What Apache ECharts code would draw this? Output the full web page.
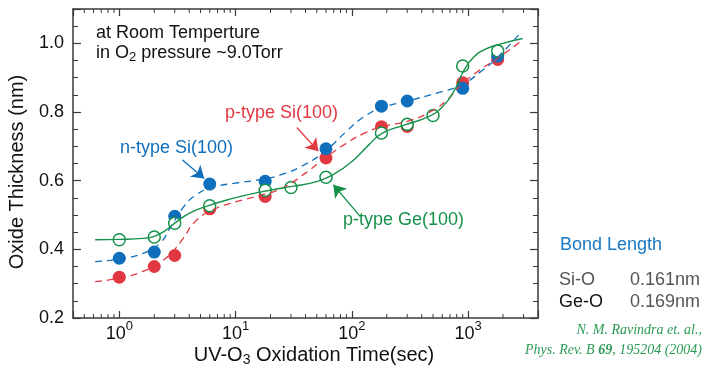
<!DOCTYPE html>
<html>
<head>
<meta charset="utf-8">
<script src="https://cdn.jsdelivr.net/npm/echarts@6/dist/echarts.min.js"></script>
<style>
  html, body { margin: 0; padding: 0; background: #fff; }
  #chart { width: 704px; height: 372px; }
</style>
</head>
<body>
<div id="chart"></div>
<script>
// measured points (time in sec, thickness in nm)
const siTimes = [1, 2, 3, 6, 18, 60, 180, 300, 900, 1800]
const nSiValues = [0.374, 0.392, 0.496, 0.590, 0.598, 0.693, 0.817, 0.832, 0.869, 0.963]
const pSiValues = [0.319, 0.350, 0.382, 0.518, 0.554, 0.666, 0.757, 0.758, 0.885, 0.953]
const geTimes = [1, 2, 3, 6, 18, 30, 60, 180, 300, 500, 900, 1800]
const geValues = [0.428, 0.436, 0.476, 0.527, 0.572, 0.580, 0.610, 0.739, 0.764, 0.790, 0.934, 0.978]

// fitted curves
const nFitTimes = [0.62, 1, 1.6, 2.24, 2.82, 3.55, 4.47, 6.3, 10, 15.8, 25, 40, 60, 89, 126, 182, 316, 562, 891, 1260, 1780, 2820]
const nFitValues = [0.364, 0.372, 0.388, 0.418, 0.470, 0.522, 0.556, 0.580, 0.593, 0.602, 0.618, 0.648, 0.688, 0.742, 0.785, 0.812, 0.834, 0.857, 0.880, 0.915, 0.958, 1.030]
const pFitTimes = [0.62, 1, 1.6, 2.24, 2.82, 3.55, 4.47, 6.3, 10, 15.8, 25, 40, 60, 89, 126, 182, 316, 500, 660, 891, 1260, 1780, 2950]
const pFitValues = [0.306, 0.316, 0.336, 0.362, 0.390, 0.432, 0.480, 0.514, 0.538, 0.556, 0.578, 0.622, 0.668, 0.708, 0.737, 0.757, 0.775, 0.805, 0.835, 0.882, 0.922, 0.955, 1.010]
const gFitTimes = [0.62, 1, 1.6, 2, 2.5, 3.16, 4, 5.6, 8.9, 15.8, 31.6, 50, 71, 100, 141, 182, 282, 447, 603, 760, 912, 1100, 1410, 2000, 2950]
const gFitValues = [0.428, 0.429, 0.432, 0.438, 0.455, 0.482, 0.505, 0.525, 0.546, 0.566, 0.584, 0.597, 0.620, 0.655, 0.705, 0.738, 0.762, 0.785, 0.815, 0.862, 0.918, 0.957, 0.983, 1.000, 1.014]

// minor ticks of the log axis
const minorTimes = [0.5, 0.6, 0.7, 0.8, 0.9, 2, 3, 4, 5, 6, 7, 8, 9, 20, 30, 40, 50, 60, 70, 80, 90,
  200, 300, 400, 500, 600, 700, 800, 900, 2000, 3000]

const BLUE = '#0f6fbd'
const RED = '#e23842'
const GREEN = '#16914a'
const AXIS = '#3a3a3a'
const FONT = '"Liberation Sans", Arial, sans-serif'
const SERIF = '"Liberation Serif", serif'

const zip = (xs, ys) => xs.map((x, i) => [x, ys[i]])

const arrow = (color, from, to) => ({
  silent: true,
  symbol: ['none', 'arrow'],
  symbolSize: 12,
  label: { show: false },
  lineStyle: { color: color, width: 1.3, type: 'solid' },
  emphasis: { disabled: true },
  data: [[{ coord: from }, { coord: to }]]
})

const myChart = echarts.init(document.getElementById('chart'))

const axisLine = { show: true, lineStyle: { color: AXIS, width: 1.5 } }

const option = {
  animation: false,
  grid: { left: 73, right: 166, top: 9, bottom: 54 },
  xAxis: [{
    type: 'log',
    logBase: 10,
    min: 0.4,
    max: 4000,
    axisLine: axisLine,
    axisTick: { inside: true, length: 7, lineStyle: { color: AXIS, width: 1.2 } },
    splitLine: { show: false },
    axisLabel: {
      margin: 2,
      formatter: function (v) {
        const e = Math.log10(v)
        if (Math.abs(e - Math.round(e)) > 1e-6) return ''
        return '{b|10}{s|' + Math.round(e) + '}'
      },
      rich: {
        b: { fontFamily: FONT, fontSize: 18, color: '#111', lineHeight: 28 },
        s: { fontFamily: FONT, fontSize: 13, color: '#111', lineHeight: 13, verticalAlign: 'top' }
      }
    }
  }, {
    type: 'log',
    logBase: 10,
    min: 0.4,
    max: 4000,
    position: 'top',
    axisLine: axisLine,
    axisTick: { inside: true, length: 7, lineStyle: { color: AXIS, width: 1.2 } },
    axisLabel: { show: false },
    splitLine: { show: false }
  }],
  yAxis: [{
    type: 'value',
    min: 0.2,
    max: 1.1,
    interval: 0.2,
    axisLine: axisLine,
    axisTick: { inside: true, length: 8, lineStyle: { color: AXIS, width: 1.2 } },
    minorTick: { show: true, splitNumber: 4, length: 5, lineStyle: { color: AXIS, width: 1 } },
    splitLine: { show: false },
    axisLabel: {
      margin: 9,
      fontFamily: FONT,
      fontSize: 18,
      color: '#111',
      showMaxLabel: false,
      formatter: v => v.toFixed(1)
    }
  }, {
    type: 'value',
    min: 0.2,
    max: 1.1,
    interval: 0.2,
    position: 'right',
    axisLine: axisLine,
    axisTick: { inside: true, length: 8, lineStyle: { color: AXIS, width: 1.2 } },
    minorTick: { show: true, splitNumber: 4, length: 5, lineStyle: { color: AXIS, width: 1 } },
    splitLine: { show: false },
    axisLabel: { show: false }
  }],
  series: [
    {
      type: 'custom',
      silent: true,
      data: minorTimes.map(t => [t, 0.5]),
      encode: { x: 0, y: 1 },
      renderItem: function (params, api) {
        const x = api.coord([api.value(0), 0.5])[0]
        const cs = params.coordSys
        const s = { stroke: AXIS, lineWidth: 1 }
        return {
          type: 'group',
          children: [
            { type: 'line', shape: { x1: x, y1: cs.y + cs.height, x2: x, y2: cs.y + cs.height - 4 }, style: s },
            { type: 'line', shape: { x1: x, y1: cs.y, x2: x, y2: cs.y + 4 }, style: s }
          ]
        }
      }
    },
    {
      name: 'p-type Si fit', type: 'line', data: zip(pFitTimes, pFitValues),
      showSymbol: false, smooth: 0.5, silent: true,
      lineStyle: { color: RED, width: 1.3, type: [7, 5] }
    },
    {
      name: 'n-type Si fit', type: 'line', data: zip(nFitTimes, nFitValues),
      showSymbol: false, smooth: 0.5, silent: true,
      lineStyle: { color: BLUE, width: 1.3, type: [7, 5] }
    },
    {
      name: 'p-type Ge fit', type: 'line', data: zip(gFitTimes, gFitValues),
      showSymbol: false, smooth: 0.5, silent: true,
      lineStyle: { color: GREEN, width: 1.4 }
    },
    {
      name: 'p-type Si(100)', type: 'scatter', data: zip(siTimes, pSiValues),
      symbolSize: 13, itemStyle: { color: RED, opacity: 1 },
      markLine: arrow(RED, [33.7, 0.755], [51.6, 0.686])
    },
    {
      name: 'n-type Si(100)', type: 'scatter', data: zip(siTimes, nSiValues),
      symbolSize: 13, itemStyle: { color: BLUE, opacity: 1 },
      markLine: arrow(BLUE, [3.48, 0.661], [5.38, 0.606])
    },
    {
      name: 'p-type Ge(100)', type: 'scatter', data: zip(geTimes, geValues),
      symbolSize: 12, itemStyle: { color: '#fff', borderColor: GREEN, borderWidth: 1.5, opacity: 1 },
      markLine: arrow(GREEN, [118, 0.496], [69.5, 0.588])
    }
  ],
  graphic: [
    { type: 'text', x: 96, y: 33, style: { text: 'at Room Temperture', font: '18px ' + FONT, fill: '#111', verticalAlign: 'middle' } },
    { type: 'text', x: 96, y: 53, style: {
      text: '{n|in O}{sub|2}{n| pressure ~9.0Torr}', verticalAlign: 'middle',
      rich: {
        n: { fontFamily: FONT, fontSize: 18, fill: '#111', lineHeight: 22 },
        sub: { fontFamily: FONT, fontSize: 13, fill: '#111', lineHeight: 13, verticalAlign: 'bottom' }
      }
    } },
    { type: 'text', x: 225, y: 113, style: { text: 'p-type Si(100)', font: '18px ' + FONT, fill: RED, verticalAlign: 'middle' } },
    { type: 'text', x: 120, y: 148, style: { text: 'n-type Si(100)', font: '18px ' + FONT, fill: BLUE, verticalAlign: 'middle' } },
    { type: 'text', x: 343, y: 220, style: { text: 'p-type Ge(100)', font: '18px ' + FONT, fill: GREEN, verticalAlign: 'middle' } },
    { type: 'text', x: 17, y: 172, rotation: Math.PI / 2, style: { text: 'Oxide Thickness (nm)', font: '20px ' + FONT, fill: '#111', align: 'center', verticalAlign: 'middle' } },
    { type: 'text', x: 314, y: 355, style: {
      text: '{n|UV-O}{sub|3}{n| Oxidation Time(sec)}', align: 'center', verticalAlign: 'middle',
      rich: {
        n: { fontFamily: FONT, fontSize: 20, fill: '#111', lineHeight: 24 },
        sub: { fontFamily: FONT, fontSize: 14, fill: '#111', lineHeight: 14, verticalAlign: 'bottom' }
      }
    } },
    { type: 'text', x: 560, y: 245, style: { text: 'Bond Length', font: '18px ' + FONT, fill: '#1a78c2', verticalAlign: 'middle' } },
    { type: 'text', x: 559, y: 280, style: { text: 'Si-O', font: '18px ' + FONT, fill: '#555', verticalAlign: 'middle' } },
    { type: 'text', x: 630, y: 280, style: { text: '0.161nm', font: '18px ' + FONT, fill: '#555', verticalAlign: 'middle' } },
    { type: 'text', x: 559, y: 302, style: { text: 'Ge-O', font: '18px ' + FONT, fill: '#111', verticalAlign: 'middle' } },
    { type: 'text', x: 630, y: 302, style: { text: '0.169nm', font: '18px ' + FONT, fill: '#555', verticalAlign: 'middle' } },
    { type: 'text', x: 702, y: 330, style: { text: 'N. M. Ravindra et. al.,', font: 'italic 14px ' + SERIF, fill: '#2a9a55', align: 'right', verticalAlign: 'middle' } },
    { type: 'text', x: 702, y: 350, style: {
      text: '{i|Phys. Rev. B }{b|69}{i|, 195204 (2004)}', align: 'right', verticalAlign: 'middle',
      rich: {
        i: { fontFamily: SERIF, fontStyle: 'italic', fontSize: 14, fill: '#2a9a55' },
        b: { fontFamily: SERIF, fontStyle: 'italic', fontWeight: 'bold', fontSize: 14, fill: '#2a9a55' }
      }
    } }
  ]
}

myChart.setOption(option)
</script>
</body>
</html>
